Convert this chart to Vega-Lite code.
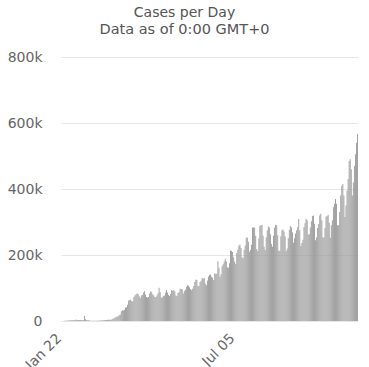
{
  "$schema": "https://vega.github.io/schema/vega-lite/v6.json",
  "width": 297,
  "height": 264,
  "autosize": {"type": "none"},
  "padding": {"left": 61, "top": 57, "right": 11, "bottom": 46},
  "title": {
    "text": "Cases per Day",
    "subtitle": "Data as of 0:00 GMT+0",
    "anchor": "middle",
    "dx": -25,
    "offset": 14,
    "font": "DejaVu Sans",
    "fontSize": 14,
    "fontWeight": "normal",
    "color": "#555555",
    "subtitleFont": "DejaVu Sans",
    "subtitleFontSize": 14.5,
    "subtitleColor": "#555555",
    "subtitlePadding": 3
  },
  "config": {"view": {"stroke": null}},
  "data": {
    "values": [
      {"d":"Jan 22","v":0},{"d":"Jan 23","v":100},{"d":"Jan 24","v":290},{"d":"Jan 25","v":500},{"d":"Jan 26","v":680},{"d":"Jan 27","v":810},{"d":"Jan 28","v":1750},{"d":"Jan 29","v":1480},{"d":"Jan 30","v":1980},{"d":"Jan 31","v":2100},
      {"d":"Feb 01","v":2600},{"d":"Feb 02","v":2830},{"d":"Feb 03","v":3240},{"d":"Feb 04","v":3900},{"d":"Feb 05","v":3700},{"d":"Feb 06","v":3200},{"d":"Feb 07","v":3400},{"d":"Feb 08","v":2700},{"d":"Feb 09","v":3000},{"d":"Feb 10","v":2500},{"d":"Feb 11","v":2000},{"d":"Feb 12","v":2050},{"d":"Feb 13","v":15150},{"d":"Feb 14","v":5100},{"d":"Feb 15","v":2650},{"d":"Feb 16","v":2100},{"d":"Feb 17","v":1900},{"d":"Feb 18","v":1750},{"d":"Feb 19","v":400},{"d":"Feb 20","v":600},{"d":"Feb 21","v":1000},{"d":"Feb 22","v":1000},{"d":"Feb 23","v":600},{"d":"Feb 24","v":600},{"d":"Feb 25","v":850},{"d":"Feb 26","v":950},{"d":"Feb 27","v":1200},{"d":"Feb 28","v":1400},{"d":"Feb 29","v":1800},
      {"d":"Mar 01","v":1900},{"d":"Mar 02","v":1800},{"d":"Mar 03","v":2400},{"d":"Mar 04","v":2300},{"d":"Mar 05","v":2800},{"d":"Mar 06","v":3900},{"d":"Mar 07","v":4000},{"d":"Mar 08","v":4000},{"d":"Mar 09","v":4000},{"d":"Mar 10","v":4600},{"d":"Mar 11","v":7000},{"d":"Mar 12","v":7500},{"d":"Mar 13","v":10800},{"d":"Mar 14","v":11000},{"d":"Mar 15","v":13900},{"d":"Mar 16","v":14500},{"d":"Mar 17","v":17400},{"d":"Mar 18","v":19400},{"d":"Mar 19","v":29300},{"d":"Mar 20","v":32400},{"d":"Mar 21","v":31800},{"d":"Mar 22","v":34000},{"d":"Mar 23","v":40700},{"d":"Mar 24","v":42000},{"d":"Mar 25","v":49000},{"d":"Mar 26","v":62000},{"d":"Mar 27","v":63000},{"d":"Mar 28","v":65000},{"d":"Mar 29","v":60000},{"d":"Mar 30","v":60000},{"d":"Mar 31","v":73000},
      {"d":"Apr 01","v":77000},{"d":"Apr 02","v":80000},{"d":"Apr 03","v":84000},{"d":"Apr 04","v":82000},{"d":"Apr 05","v":75000},{"d":"Apr 06","v":70000},{"d":"Apr 07","v":77000},{"d":"Apr 08","v":79000},{"d":"Apr 09","v":86000},{"d":"Apr 10","v":90000},{"d":"Apr 11","v":80000},{"d":"Apr 12","v":73000},{"d":"Apr 13","v":71000},{"d":"Apr 14","v":73000},{"d":"Apr 15","v":83000},{"d":"Apr 16","v":90000},{"d":"Apr 17","v":87000},{"d":"Apr 18","v":81000},{"d":"Apr 19","v":77000},{"d":"Apr 20","v":73000},{"d":"Apr 21","v":73000},{"d":"Apr 22","v":77000},{"d":"Apr 23","v":84000},{"d":"Apr 24","v":101000},{"d":"Apr 25","v":87000},{"d":"Apr 26","v":71000},{"d":"Apr 27","v":71000},{"d":"Apr 28","v":76000},{"d":"Apr 29","v":77000},{"d":"Apr 30","v":86000},
      {"d":"May 01","v":94000},{"d":"May 02","v":86000},{"d":"May 03","v":79000},{"d":"May 04","v":76000},{"d":"May 05","v":82000},{"d":"May 06","v":94000},{"d":"May 07","v":92000},{"d":"May 08","v":93000},{"d":"May 09","v":90000},{"d":"May 10","v":77000},{"d":"May 11","v":76000},{"d":"May 12","v":85000},{"d":"May 13","v":87000},{"d":"May 14","v":98000},{"d":"May 15","v":97000},{"d":"May 16","v":96000},{"d":"May 17","v":83000},{"d":"May 18","v":91000},{"d":"May 19","v":95000},{"d":"May 20","v":104000},{"d":"May 21","v":108000},{"d":"May 22","v":107000},{"d":"May 23","v":102000},{"d":"May 24","v":97000},{"d":"May 25","v":93000},{"d":"May 26","v":98000},{"d":"May 27","v":106000},{"d":"May 28","v":118000},{"d":"May 29","v":125000},{"d":"May 30","v":125000},{"d":"May 31","v":107000},
      {"d":"Jun 01","v":106000},{"d":"Jun 02","v":118000},{"d":"Jun 03","v":122000},{"d":"Jun 04","v":130000},{"d":"Jun 05","v":128000},{"d":"Jun 06","v":130000},{"d":"Jun 07","v":114000},{"d":"Jun 08","v":108000},{"d":"Jun 09","v":123000},{"d":"Jun 10","v":135000},{"d":"Jun 11","v":140000},{"d":"Jun 12","v":140000},{"d":"Jun 13","v":134000},{"d":"Jun 14","v":131000},{"d":"Jun 15","v":124000},{"d":"Jun 16","v":144000},{"d":"Jun 17","v":143000},{"d":"Jun 18","v":143000},{"d":"Jun 19","v":181000},{"d":"Jun 20","v":161000},{"d":"Jun 21","v":133000},{"d":"Jun 22","v":142000},{"d":"Jun 23","v":166000},{"d":"Jun 24","v":172000},{"d":"Jun 25","v":180000},{"d":"Jun 26","v":189000},{"d":"Jun 27","v":180000},{"d":"Jun 28","v":163000},{"d":"Jun 29","v":161000},{"d":"Jun 30","v":175000},
      {"d":"Jul 01","v":214000},{"d":"Jul 02","v":212000},{"d":"Jul 03","v":209000},{"d":"Jul 04","v":193000},{"d":"Jul 05","v":180000},{"d":"Jul 06","v":173000},{"d":"Jul 07","v":206000},{"d":"Jul 08","v":216000},{"d":"Jul 09","v":228000},{"d":"Jul 10","v":232000},{"d":"Jul 11","v":221000},{"d":"Jul 12","v":193000},{"d":"Jul 13","v":190000},{"d":"Jul 14","v":216000},{"d":"Jul 15","v":229000},{"d":"Jul 16","v":252000},{"d":"Jul 17","v":253000},{"d":"Jul 18","v":240000},{"d":"Jul 19","v":210000},{"d":"Jul 20","v":215000},{"d":"Jul 21","v":231000},{"d":"Jul 22","v":283000},{"d":"Jul 23","v":283000},{"d":"Jul 24","v":283000},{"d":"Jul 25","v":258000},{"d":"Jul 26","v":218000},{"d":"Jul 27","v":212000},{"d":"Jul 28","v":250000},{"d":"Jul 29","v":288000},{"d":"Jul 30","v":290000},{"d":"Jul 31","v":291000},
      {"d":"Aug 01","v":258000},{"d":"Aug 02","v":225000},{"d":"Aug 03","v":215000},{"d":"Aug 04","v":254000},{"d":"Aug 05","v":275000},{"d":"Aug 06","v":286000},{"d":"Aug 07","v":283000},{"d":"Aug 08","v":263000},{"d":"Aug 09","v":233000},{"d":"Aug 10","v":225000},{"d":"Aug 11","v":258000},{"d":"Aug 12","v":283000},{"d":"Aug 13","v":292000},{"d":"Aug 14","v":290000},{"d":"Aug 15","v":260000},{"d":"Aug 16","v":213000},{"d":"Aug 17","v":213000},{"d":"Aug 18","v":257000},{"d":"Aug 19","v":275000},{"d":"Aug 20","v":277000},{"d":"Aug 21","v":271000},{"d":"Aug 22","v":256000},{"d":"Aug 23","v":212000},{"d":"Aug 24","v":220000},{"d":"Aug 25","v":251000},{"d":"Aug 26","v":276000},{"d":"Aug 27","v":288000},{"d":"Aug 28","v":283000},{"d":"Aug 29","v":269000},{"d":"Aug 30","v":237000},{"d":"Aug 31","v":251000},
      {"d":"Sep 01","v":265000},{"d":"Sep 02","v":275000},{"d":"Sep 03","v":284000},{"d":"Sep 04","v":309000},{"d":"Sep 05","v":275000},{"d":"Sep 06","v":227000},{"d":"Sep 07","v":236000},{"d":"Sep 08","v":246000},{"d":"Sep 09","v":285000},{"d":"Sep 10","v":296000},{"d":"Sep 11","v":310000},{"d":"Sep 12","v":305000},{"d":"Sep 13","v":262000},{"d":"Sep 14","v":263000},{"d":"Sep 15","v":283000},{"d":"Sep 16","v":302000},{"d":"Sep 17","v":318000},{"d":"Sep 18","v":320000},{"d":"Sep 19","v":295000},{"d":"Sep 20","v":245000},{"d":"Sep 21","v":253000},{"d":"Sep 22","v":282000},{"d":"Sep 23","v":294000},{"d":"Sep 24","v":320000},{"d":"Sep 25","v":325000},{"d":"Sep 26","v":305000},{"d":"Sep 27","v":254000},{"d":"Sep 28","v":252000},{"d":"Sep 29","v":282000},{"d":"Sep 30","v":316000},
      {"d":"Oct 01","v":318000},{"d":"Oct 02","v":322000},{"d":"Oct 03","v":298000},{"d":"Oct 04","v":252000},{"d":"Oct 05","v":290000},{"d":"Oct 06","v":305000},{"d":"Oct 07","v":345000},{"d":"Oct 08","v":355000},{"d":"Oct 09","v":370000},{"d":"Oct 10","v":355000},{"d":"Oct 11","v":290000},{"d":"Oct 12","v":290000},{"d":"Oct 13","v":330000},{"d":"Oct 14","v":380000},{"d":"Oct 15","v":410000},{"d":"Oct 16","v":415000},{"d":"Oct 17","v":380000},{"d":"Oct 18","v":315000},{"d":"Oct 19","v":350000},{"d":"Oct 20","v":395000},{"d":"Oct 21","v":430000},{"d":"Oct 22","v":485000},{"d":"Oct 23","v":490000},{"d":"Oct 24","v":460000},{"d":"Oct 25","v":380000},{"d":"Oct 26","v":420000},{"d":"Oct 27","v":470000},{"d":"Oct 28","v":505000},{"d":"Oct 29","v":540000},{"d":"Oct 30","v":567000}
    ]
  },
  "mark": {"type": "bar", "color": "#999999"},
  "encoding": {
    "x": {
      "field": "d",
      "type": "ordinal",
      "sort": null,
      "scale": {"paddingInner": 0.15, "paddingOuter": 0},
      "axis": {
        "title": null,
        "domain": false,
        "ticks": false,
        "labelAngle": -45,
        "labelAlign": "right",
        "labelBaseline": "top",
        "labelPadding": 10,
        "labelOffset": -7,
        "labelFont": "DejaVu Sans",
        "labelFontSize": 14,
        "labelColor": "#666666",
        "labelOverlap": false,
        "labelExpr": "datum.value == 'Jan 22' || datum.value == 'Jul 05' ? datum.value : ''"
      }
    },
    "y": {
      "field": "v",
      "type": "quantitative",
      "scale": {"domain": [0, 800000], "nice": false},
      "axis": {
        "title": null,
        "domain": false,
        "ticks": false,
        "values": [0, 200000, 400000, 600000, 800000],
        "labelExpr": "datum.value == 0 ? '0' : (datum.value / 1000) + 'k'",
        "labelPadding": 19,
        "labelFont": "DejaVu Sans",
        "labelFontSize": 14,
        "labelColor": "#666666",
        "gridColor": "#e6e6e6",
        "gridWidth": 1
      }
    }
  }
}
